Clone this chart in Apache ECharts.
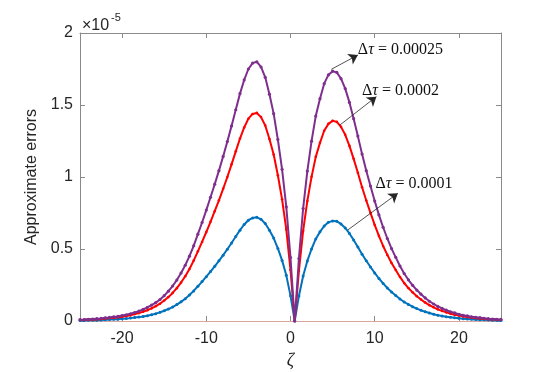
<!DOCTYPE html>
<html>
<head>
<meta charset="utf-8">
<script src="https://cdn.jsdelivr.net/npm/echarts@6/dist/echarts.min.js"></script>
<style>
  html, body { margin: 0; padding: 0; background: #fff; }
  #chart { width: 540px; height: 372px; }
</style>
</head>
<body>
<div id="chart"></div>
<script>
// zeta grid: -25 .. 25, step 0.5 (101 samples)
var zetaStart = -25, zetaStep = 0.5;

// errors in units of 1e-5, one value per zeta sample
var errTau1 = [0.004,0.004,0.005,0.006,0.006,0.007,0.009,0.010,0.012,0.013,0.015,0.017,0.020,0.024,0.027,0.032,0.037,0.044,0.051,0.060,
  0.071,0.083,0.097,0.114,0.133,0.155,0.180,0.209,0.241,0.274,0.308,0.343,0.380,0.418,0.457,0.498,0.542,0.587,0.631,0.670,
  0.700,0.716,0.720,0.706,0.677,0.630,0.576,0.504,0.421,0.317,0.176,
  0,
  0.174,0.313,0.417,0.500,0.570,0.619,0.660,0.685,0.695,0.692,0.674,0.646,0.608,0.563,0.514,0.464,0.418,0.375,0.334,0.295,
  0.261,0.229,0.202,0.177,0.153,0.132,0.115,0.099,0.086,0.074,0.064,0.055,0.047,0.040,0.035,0.030,0.026,0.022,0.019,0.016,
  0.014,0.012,0.010,0.009,0.008,0.007,0.006,0.005,0.004];

var errTau2 = [0.007,0.008,0.010,0.011,0.013,0.014,0.017,0.020,0.023,0.026,0.030,0.035,0.040,0.048,0.055,0.065,0.075,0.088,0.103,0.120,
  0.142,0.166,0.195,0.228,0.267,0.311,0.361,0.419,0.484,0.549,0.618,0.689,0.763,0.838,0.918,1.000,1.088,1.178,1.267,1.344,
  1.405,1.438,1.445,1.416,1.358,1.264,1.156,1.012,0.845,0.636,0.354,
  0,
  0.348,0.626,0.834,1.001,1.140,1.237,1.321,1.369,1.390,1.383,1.348,1.293,1.216,1.126,1.029,0.929,0.837,0.751,0.667,0.591,
  0.521,0.459,0.403,0.354,0.306,0.264,0.229,0.199,0.172,0.149,0.128,0.110,0.095,0.081,0.070,0.060,0.051,0.044,0.038,0.032,
  0.028,0.024,0.021,0.018,0.015,0.013,0.012,0.010,0.009];

var errTau25 = [0.009,0.010,0.012,0.014,0.016,0.018,0.022,0.025,0.029,0.032,0.038,0.043,0.050,0.059,0.068,0.081,0.094,0.110,0.128,0.149,
  0.176,0.207,0.243,0.284,0.333,0.387,0.450,0.522,0.603,0.684,0.770,0.859,0.950,1.044,1.143,1.246,1.355,1.467,1.579,1.674,
  1.750,1.791,1.800,1.764,1.692,1.575,1.440,1.260,1.053,0.792,0.441,
  0,
  0.434,0.781,1.041,1.249,1.423,1.544,1.648,1.709,1.735,1.726,1.683,1.614,1.518,1.405,1.284,1.159,1.044,0.937,0.833,0.737,
  0.651,0.573,0.503,0.442,0.382,0.330,0.286,0.248,0.215,0.186,0.160,0.137,0.118,0.101,0.087,0.075,0.064,0.056,0.047,0.040,
  0.035,0.029,0.026,0.023,0.019,0.016,0.014,0.012,0.011];

var xTicks = [-20, -10, 0, 10, 20];

// annotation arrows [from, to] in data coords, and their labels
var arrows = [
  [[4.85, 1.748], [8.0, 1.847]],
  [[5.85, 1.36], [10.2, 1.558]],
  [[6.8, 0.632], [12.75, 0.887]]
];
var tauLabels = ['0.00025', '0.0002', '0.0001'];
var labelAnchors = [[8.0, 1.885], [8.5, 1.6], [10.1, 0.95]];

function pairs(vals) {
  return vals.map(function (v, i) { return [zetaStart + i * zetaStep, v]; });
}

var axisGray = '#8a8a8a';
var textCol = '#262626';

var chart = echarts.init(document.getElementById('chart'));

function lineSeries(name, vals, color, size, z) {
  return {
    name: name, type: 'line', data: pairs(vals),
    symbol: 'circle', symbolSize: size, showSymbol: true,
    lineStyle: { color: color, width: 2 },
    itemStyle: { color: color },
    emphasis: { disabled: true },
    animation: false, z: z
  };
}

var sBlue = lineSeries('0.0001', errTau1, '#0072BD', 3, 2);
var sRed = lineSeries('0.0002', errTau2, '#FF0000', 2.6, 3);
var sPurple = lineSeries('0.00025', errTau25, '#7E2F8E', 3.2, 4);
sPurple.markLine = {
  silent: true,
  symbol: ['none', 'arrow'],
  symbolSize: 9,
  label: { show: false },
  lineStyle: { color: textCol, width: 0.8, type: 'solid' },
  data: arrows.map(function (a) { return [{ coord: a[0] }, { coord: a[1] }]; })
};

function boxAxis(o) {
  o.axisLine = o.axisLine || { show: true, lineStyle: { color: axisGray } };
  o.axisLine.onZero = false;
  o.splitLine = { show: false };
  return o;
}

var option = {
  backgroundColor: '#fff',
  animation: false,
  grid: { left: 80, right: 39, top: 33, bottom: 51, containLabel: false, outerBoundsMode: 'none' },
  xAxis: [boxAxis({
    type: 'value', min: -25, max: 25, position: 'bottom',
    name: 'ζ', nameLocation: 'middle', nameGap: 30,
    nameTextStyle: { fontFamily: 'Liberation Serif', fontStyle: 'italic', fontSize: 18, color: textCol },
    axisLine: { show: true, lineStyle: { color: '#d9a79e', width: 1 } },
    axisTick: { show: true, inside: true, length: 5, customValues: xTicks, lineStyle: { color: axisGray } },
    axisLabel: { customValues: xTicks, fontFamily: 'Liberation Sans', fontSize: 16, color: textCol, margin: 10 }
  }), boxAxis({
    type: 'value', min: -25, max: 25, position: 'top',
    axisTick: { show: true, inside: true, length: 5, customValues: xTicks, lineStyle: { color: axisGray } },
    axisLabel: { show: false }
  })],
  yAxis: [boxAxis({
    type: 'value', min: 0, max: 2, interval: 0.5, position: 'left',
    name: 'Approximate errors', nameLocation: 'middle', nameGap: 31,
    nameTextStyle: { fontFamily: 'Liberation Sans', fontSize: 16, color: textCol },
    axisTick: { show: true, inside: true, length: 5, lineStyle: { color: axisGray } },
    axisLabel: { fontFamily: 'Liberation Sans', fontSize: 16, color: textCol, margin: 7 }
  }), boxAxis({
    type: 'value', min: 0, max: 2, interval: 0.5, position: 'right',
    axisTick: { show: true, inside: true, length: 5, lineStyle: { color: axisGray } },
    axisLabel: { show: false }
  })],
  graphic: [
    { type: 'text', left: 82, top: 18, style: { text: '×10', fontFamily: 'Liberation Sans', fontSize: 16, fill: textCol } },
    { type: 'text', left: 111, top: 12, style: { text: '-5', fontFamily: 'Liberation Sans', fontSize: 11, fill: textCol } }
  ],
  series: [sBlue, sRed, sPurple]
};
chart.setOption(option);

// labels next to the arrow heads, placed through the axis scales
var g = labelAnchors.map(function (c, i) {
  var p = chart.convertToPixel({ xAxisIndex: 0, yAxisIndex: 0 }, c);
  return {
    type: 'text', x: p[0], y: p[1],
    style: {
      text: '{d|Δ}{t|τ}{d| = ' + tauLabels[i] + '}',
      verticalAlign: 'middle',
      rich: {
        d: { fontFamily: 'Liberation Serif', fontSize: 16, fill: '#111' },
        t: { fontFamily: 'Liberation Serif', fontStyle: 'italic', fontSize: 16, fill: '#111' }
      }
    }
  };
});
chart.setOption({ graphic: option.graphic.concat(g) });
</script>
</body>
</html>
